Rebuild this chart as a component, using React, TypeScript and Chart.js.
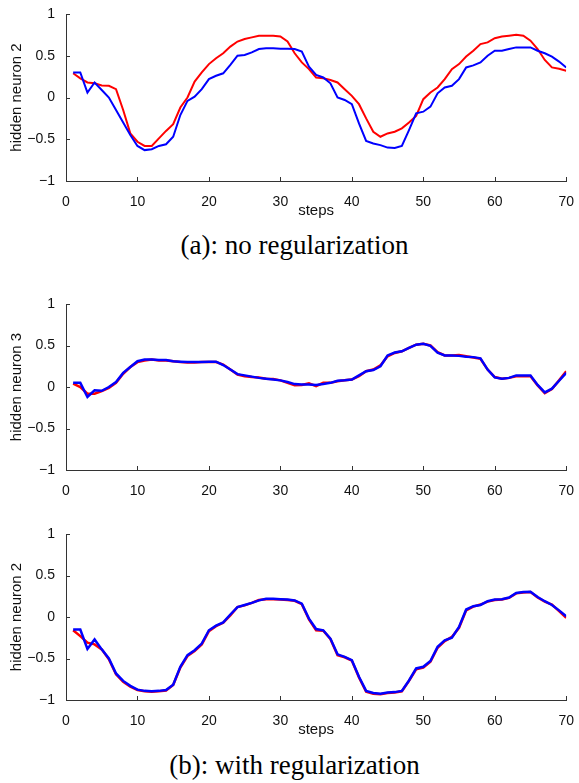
import React, { useEffect, useRef } from "react";
import { Chart, registerables } from "chart.js";
Chart.register(...registerables);

const steps = [
  1, 2, 3, 4, 5, 6, 7, 8, 9, 10, 11, 12, 13, 14, 15, 16, 17, 18, 19, 20,
  21, 22, 23, 24, 25, 26, 27, 28, 29, 30, 31, 32, 33, 34, 35, 36, 37, 38, 39, 40,
  41, 42, 43, 44, 45, 46, 47, 48, 49, 50, 51, 52, 53, 54, 55, 56, 57, 58, 59, 60,
  61, 62, 63, 64, 65, 66, 67, 68, 69, 70,
];

const xTicks = [0, 10, 20, 30, 40, 50, 60, 70];
const yTicks = [-1, -0.5, 0, 0.5, 1];

// (a) no regularization, hidden neuron 2
const noRegRed = [
  0.29, 0.23, 0.18, 0.17, 0.145, 0.14, 0.10, -0.15, -0.43, -0.53,
  -0.58, -0.58, -0.49, -0.40, -0.32, -0.12, 0.0, 0.19, 0.30, 0.40,
  0.47, 0.53, 0.61, 0.67, 0.70, 0.72, 0.74, 0.74, 0.74, 0.73,
  0.67, 0.53, 0.42, 0.34, 0.24, 0.23, 0.21, 0.18, 0.10, 0.02,
  -0.08, -0.25, -0.41, -0.47, -0.43, -0.41, -0.37, -0.30, -0.22, -0.02,
  0.06, 0.12, 0.22, 0.34, 0.40, 0.49, 0.56, 0.64, 0.66, 0.71,
  0.73, 0.74, 0.75, 0.74, 0.68, 0.58, 0.45, 0.36, 0.345, 0.32,
];
const noRegBlue = [
  0.30, 0.30, 0.06, 0.18, 0.09, 0.0, -0.15, -0.30, -0.45, -0.58,
  -0.63, -0.62, -0.58, -0.56, -0.47, -0.21, -0.04, 0.01, 0.10, 0.22,
  0.26, 0.29, 0.39, 0.50, 0.51, 0.54, 0.58, 0.59, 0.59, 0.585,
  0.585, 0.58, 0.55, 0.37, 0.27, 0.24, 0.17, 0.0, -0.03, -0.08,
  -0.31, -0.52, -0.55, -0.57, -0.60, -0.605, -0.58, -0.39, -0.19, -0.17,
  -0.11, 0.05, 0.12, 0.14, 0.22, 0.36, 0.385, 0.42, 0.50, 0.56,
  0.56, 0.58, 0.60, 0.60, 0.60, 0.56, 0.53, 0.49, 0.43, 0.36,
];

// (b) with regularization, hidden neuron 3
const reg3Red = [
  0.04, 0.0, -0.08, -0.08, -0.05, -0.01, 0.05, 0.16, 0.24, 0.30,
  0.32, 0.33, 0.32, 0.32, 0.31, 0.30, 0.295, 0.295, 0.30, 0.30,
  0.30, 0.27, 0.21, 0.15, 0.13, 0.12, 0.115, 0.10, 0.095, 0.08,
  0.05, 0.02, 0.025, 0.045, 0.01, 0.05, 0.05, 0.07, 0.08, 0.09,
  0.13, 0.19, 0.21, 0.26, 0.37, 0.41, 0.43, 0.47, 0.51, 0.52,
  0.50, 0.42, 0.38, 0.38, 0.385, 0.37, 0.355, 0.34, 0.21, 0.12,
  0.10, 0.11, 0.13, 0.13, 0.13, 0.02, -0.075, -0.025, 0.08, 0.19,
];
const reg3Blue = [
  0.05, 0.05, -0.12, -0.04, -0.045, 0.0, 0.06, 0.17, 0.24, 0.31,
  0.33, 0.33, 0.325, 0.325, 0.31, 0.305, 0.30, 0.30, 0.30, 0.305,
  0.305, 0.265, 0.21, 0.155, 0.14, 0.125, 0.11, 0.10, 0.09, 0.08,
  0.06, 0.035, 0.03, 0.03, 0.025, 0.035, 0.05, 0.075, 0.08, 0.09,
  0.14, 0.19, 0.205, 0.25, 0.38, 0.415, 0.43, 0.47, 0.51, 0.52,
  0.495, 0.415, 0.38, 0.38, 0.375, 0.365, 0.36, 0.345, 0.21, 0.115,
  0.10, 0.11, 0.14, 0.14, 0.14, 0.025, -0.065, -0.02, 0.075, 0.17,
];

// (b) with regularization, hidden neuron 2
const reg2Red = [
  -0.16, -0.23, -0.31, -0.33, -0.39, -0.51, -0.69, -0.78, -0.84, -0.88,
  -0.895, -0.90, -0.895, -0.885, -0.82, -0.61, -0.47, -0.41, -0.33, -0.17,
  -0.11, -0.07, 0.02, 0.12, 0.14, 0.17, 0.205, 0.215, 0.215, 0.21,
  0.205, 0.195, 0.155, -0.03, -0.16, -0.165, -0.265, -0.46, -0.485, -0.525,
  -0.73, -0.90, -0.925, -0.93, -0.915, -0.91, -0.895, -0.77, -0.63, -0.61,
  -0.54, -0.37, -0.29, -0.24, -0.13, 0.08, 0.125, 0.15, 0.185, 0.205,
  0.21, 0.23, 0.285, 0.295, 0.30, 0.235, 0.185, 0.15, 0.07, -0.01,
];
const reg2Blue = [
  -0.15, -0.15, -0.385, -0.27, -0.39, -0.50, -0.68, -0.77, -0.83, -0.875,
  -0.89, -0.895, -0.89, -0.88, -0.815, -0.60, -0.46, -0.40, -0.32, -0.16,
  -0.105, -0.065, 0.03, 0.12, 0.145, 0.17, 0.20, 0.22, 0.22, 0.215,
  0.21, 0.20, 0.16, -0.02, -0.145, -0.16, -0.26, -0.45, -0.48, -0.52,
  -0.72, -0.89, -0.915, -0.925, -0.91, -0.905, -0.89, -0.765, -0.62, -0.60,
  -0.53, -0.36, -0.28, -0.25, -0.12, 0.09, 0.13, 0.145, 0.19, 0.21,
  0.215, 0.235, 0.29, 0.30, 0.305, 0.24, 0.19, 0.145, 0.08, 0.01,
];

const AXIS = "#333";
const TEXT = "#111";
const SANS = "'Liberation Sans', Arial, Helvetica, sans-serif";
const SERIF = "'Liberation Serif', 'Times New Roman', serif";

const inwardTicks = {
  id: "inwardTicks",
  afterDraw(chart: any) {
    const { ctx, chartArea, scales } = chart;
    ctx.save();
    ctx.strokeStyle = AXIS;
    ctx.lineWidth = 1;
    const len = 4;
    xTicks.forEach((v) => {
      const px = Math.round(scales.x.getPixelForValue(v)) + 0.5;
      ctx.beginPath();
      ctx.moveTo(px, chartArea.bottom);
      ctx.lineTo(px, chartArea.bottom - len);
      ctx.stroke();
    });
    yTicks.forEach((v) => {
      const py = Math.round(scales.y.getPixelForValue(v)) + 0.5;
      ctx.beginPath();
      ctx.moveTo(chartArea.left, py);
      ctx.lineTo(chartArea.left + len, py);
      ctx.stroke();
    });
    ctx.restore();
  },
};

type PanelProps = {
  top: number;
  height: number;
  xScaleHeight: number;
  padRight: number;
  yLabel: string;
  showSteps: boolean;
  red: number[];
  blue: number[];
  lineWidth: number;
};

function Panel(p: PanelProps) {
  const ref = useRef<HTMLCanvasElement | null>(null);
  useEffect(() => {
    if (!ref.current) return;
    const toPts = (vals: number[]) => steps.map((s, i) => ({ x: s, y: vals[i] }));
    const chart = new Chart(ref.current, {
      type: "line",
      data: {
        datasets: [
          {
            data: toPts(p.red),
            borderColor: "#ff0000",
            borderWidth: p.lineWidth,
            pointRadius: 0,
            tension: 0,
            fill: false,
            order: 2,
          },
          {
            data: toPts(p.blue),
            borderColor: "#0000ff",
            borderWidth: p.lineWidth,
            pointRadius: 0,
            tension: 0,
            fill: false,
            order: 1,
          },
        ],
      },
      options: {
        animation: false,
        responsive: false,
        devicePixelRatio: 1,
        events: [],
        layout: { padding: { top: 14, right: p.padRight, left: 0, bottom: 0 } },
        plugins: { legend: { display: false }, tooltip: { enabled: false } },
        scales: {
          x: {
            type: "linear",
            min: 0,
            max: 70,
            afterBuildTicks: (s: any) => {
              s.ticks = xTicks.map((v) => ({ value: v }));
            },
            ticks: {
              padding: 5,
              color: TEXT,
              font: { family: SANS, size: 14 },
              maxRotation: 0,
              autoSkip: false,
            },
            grid: { display: false },
            border: { display: true, color: AXIS, width: 1 },
            title: {
              display: p.showSteps,
              text: "steps",
              color: TEXT,
              font: { family: SANS, size: 15 },
              padding: 0,
            },
            afterFit: (s: any) => {
              s.height = p.xScaleHeight;
            },
          },
          y: {
            type: "linear",
            min: -1,
            max: 1,
            afterBuildTicks: (s: any) => {
              s.ticks = yTicks.map((v) => ({ value: v }));
            },
            ticks: {
              padding: 3,
              color: TEXT,
              font: { family: SANS, size: 14 },
              callback: (v: any) => String(v).replace("-", "\u2212"),
            },
            grid: { display: false },
            border: { display: true, color: AXIS, width: 1 },
            title: {
              display: true,
              text: p.yLabel,
              color: TEXT,
              font: { family: SANS, size: 15 },
              padding: { top: 8, bottom: 0 },
            },
            afterFit: (s: any) => {
              s.width = 66;
            },
          },
        },
      } as any,
      plugins: [inwardTicks],
    });
    return () => chart.destroy();
  }, []);
  return (
    <canvas
      ref={ref}
      width={579}
      height={p.height}
      style={{ position: "absolute", left: 0, top: p.top, width: 579, height: p.height }}
    />
  );
}

const captionStyle = (top: number): React.CSSProperties => ({
  position: "absolute",
  left: 0,
  top,
  width: 589,
  textAlign: "center",
  fontFamily: SERIF,
  fontSize: 27,
  lineHeight: "27px",
  color: "#000",
  whiteSpace: "nowrap",
});

export default function App() {
  return (
    <div style={{ position: "absolute", left: 0, top: 0, width: 579, height: 783, background: "#fff", overflow: "hidden" }}>
      <Panel top={0} height={220} xScaleHeight={39} padRight={8} yLabel="hidden neuron 2" showSteps={true} red={noRegRed} blue={noRegBlue} lineWidth={2} />
      <div style={captionStyle(232)}>(a): no regularization</div>
      <Panel top={290} height={208} xScaleHeight={28} padRight={12} yLabel="hidden neuron 3" showSteps={false} red={reg3Red} blue={reg3Blue} lineWidth={2.5} />
      <Panel top={520} height={219} xScaleHeight={39} padRight={12} yLabel="hidden neuron 2" showSteps={true} red={reg2Red} blue={reg2Blue} lineWidth={2.5} />
      <div style={captionStyle(752)}>(b): with regularization</div>
    </div>
  );
}
